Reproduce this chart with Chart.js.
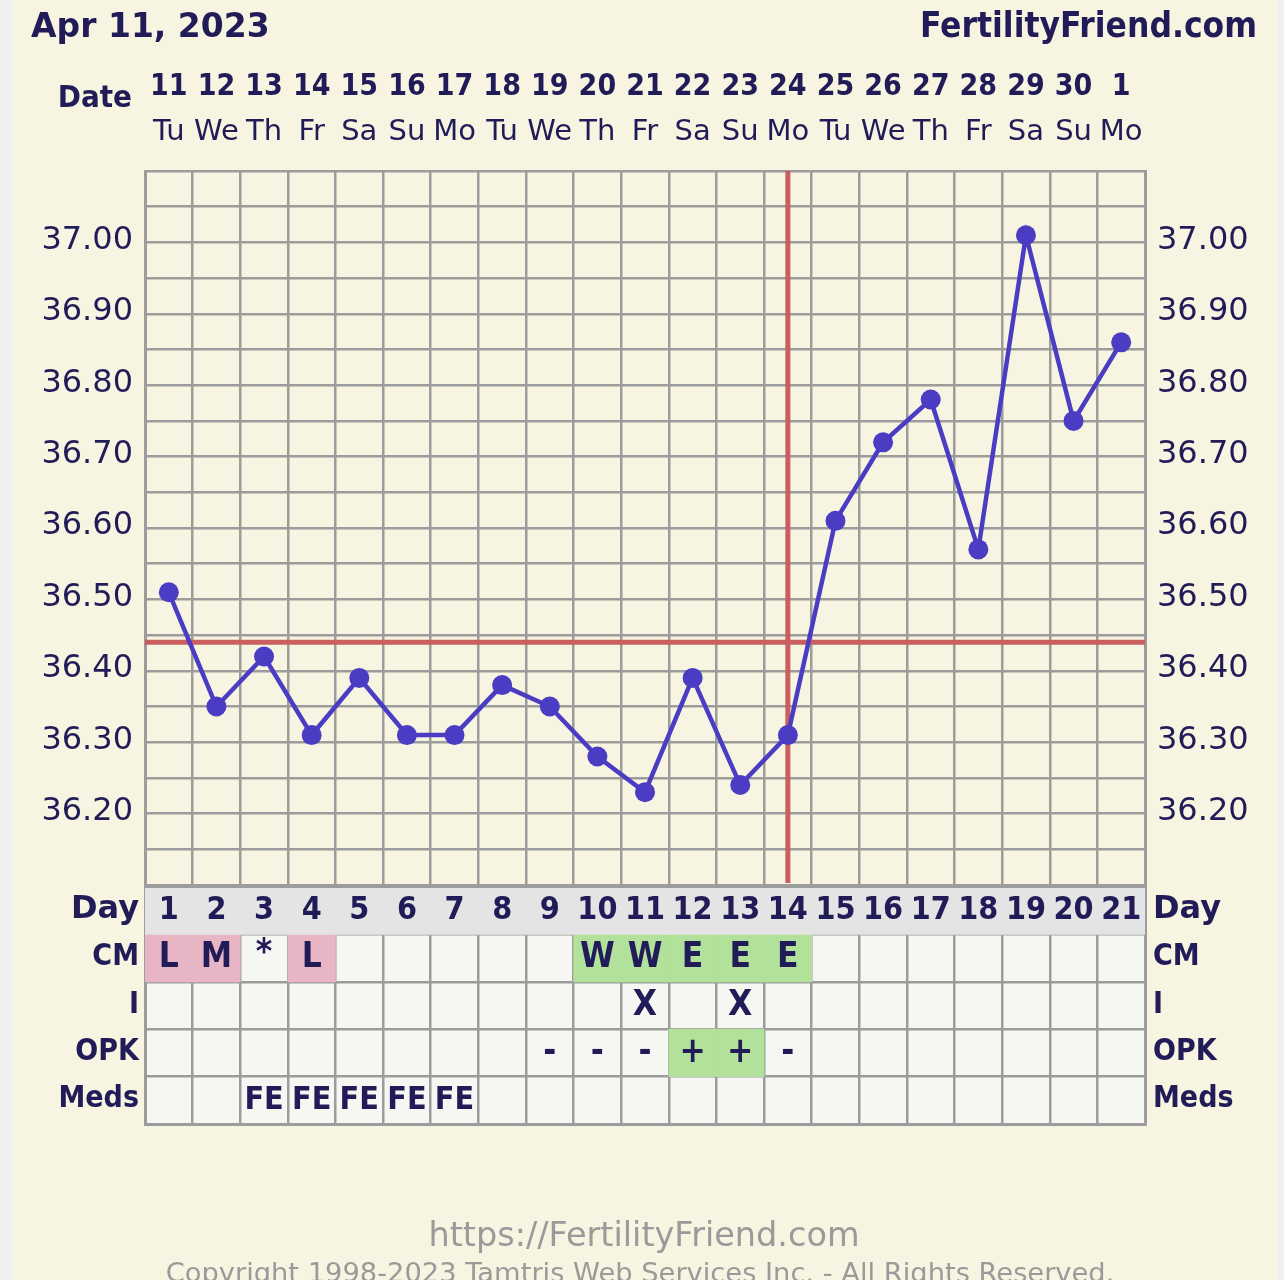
<!DOCTYPE html>
<html>
<head>
<meta charset="utf-8">
<script src="https://cdn.jsdelivr.net/npm/chart.js@4.4.0/dist/chart.umd.min.js"></script>
<style>
  html, body { margin: 0; padding: 0; background: #efefef; }
  body { width: 1284px; height: 1280px; position: relative; overflow: hidden; }
  #panel { position: absolute; left: 12px; top: 0; width: 1265px; height: 1280px; background: #f7f4e1; }
  canvas { position: absolute; left: 0; }
  #tempChart { top: 0; }
  #tableChart { top: 880px; }
</style>
</head>
<body>
<div id="panel"></div>
<canvas id="tempChart" width="1284" height="895"></canvas>
<canvas id="tableChart" width="1284" height="400"></canvas>
<script>
// chart data
const chartDate = 'Apr 11, 2023';
const siteName = 'FertilityFriend.com';
const cycleDays = ['1','2','3','4','5','6','7','8','9','10','11','12','13','14','15','16','17','18','19','20','21'];
const dates = ['11','12','13','14','15','16','17','18','19','20','21','22','23','24','25','26','27','28','29','30','1'];
const weekdays = ['Tu','We','Th','Fr','Sa','Su','Mo','Tu','We','Th','Fr','Sa','Su','Mo','Tu','We','Th','Fr','Sa','Su','Mo'];
const temps = [36.51, 36.35, 36.42, 36.31, 36.39, 36.31, 36.31, 36.38, 36.35, 36.28, 36.23,
               36.39, 36.24, 36.31, 36.61, 36.72, 36.78, 36.57, 37.01, 36.75, 36.86];
const tempLabels = ['36.20','36.30','36.40','36.50','36.60','36.70','36.80','36.90','37.00'];
const coverline = 36.44;
const ovulationDay = '14';

const rowNames = ['Day', 'CM', 'I', 'OPK', 'Meds'];
const cervicalMucus = ['L','M','*','L','','','','','','W','W','E','E','E','','','','','','',''];
const intercourse = ['','','','','','','','','','','X','','X','','','','','','','',''];
const opk = ['','','','','','','','','-','-','-','+','+','-','','','','','','',''];
const meds = ['','','FE','FE','FE','FE','FE','','','','','','','','','','','','','',''];

const NAVY = '#211c57';
const GRID = '#9c9c9c';
const LINE = '#4b3cc4';
const RED = '#c95f5f';
const PINK = '#e8b5c5';
const GREEN = '#b1e19a';

function cmColor(c) {
    if (c === 'L' || c === 'M') return PINK;
    if (c === 'W' || c === 'E') return GREEN;
    return 'rgba(0,0,0,0)';
}

function tempTick(value) {
    const lbl = tempLabels.find(t => Math.abs(parseFloat(t) - value) < 0.001);
    return lbl || '';
}

// keep the empty first/last labels from shrinking the plot
function fixWidth(w) {
    return (s) => {
        s.width = w;
        s.paddingTop = 0;
        s.paddingBottom = 0;
    };
}

const markersPlugin = {
    id: 'markers',
    beforeDatasetsDraw(chart) {
        const { ctx, chartArea, scales } = chart;
        const yc = scales.y.getPixelForValue(coverline);
        const xo = scales.x.getPixelForValue(cycleDays.indexOf(ovulationDay));
        ctx.save();
        ctx.strokeStyle = RED;
        ctx.lineWidth = 5;
        ctx.beginPath();
        ctx.moveTo(chartArea.left, yc);
        ctx.lineTo(chartArea.right, yc);
        ctx.moveTo(xo, chartArea.top);
        ctx.lineTo(xo, chartArea.bottom - 2);
        ctx.stroke();
        ctx.restore();
    },
    afterDraw(chart) {
        const ctx = chart.ctx;
        ctx.save();
        ctx.fillStyle = NAVY;
        ctx.textBaseline = 'alphabetic';
        ctx.font = 'bold 33px "DejaVu Sans"';
        ctx.textAlign = 'left';
        ctx.fillText(chartDate, 31, 37);
        ctx.font = 'bold 35px "DejaVu Sans Condensed", "DejaVu Sans"';
        ctx.textAlign = 'right';
        ctx.fillText(siteName, 1257, 37);
        ctx.font = 'bold 31px "DejaVu Sans Condensed", "DejaVu Sans"';
        ctx.fillText('Date', 132, 107);
        ctx.restore();
    }
};

new Chart(document.getElementById('tempChart'), {
    type: 'line',
    data: {
        labels: cycleDays,
        datasets: [{
            data: temps,
            borderColor: LINE,
            backgroundColor: LINE,
            borderWidth: 4.5,
            pointRadius: 10,
            pointBorderWidth: 0,
            pointBackgroundColor: LINE,
            tension: 0,
            yAxisID: 'y'
        }]
    },
    options: {
        responsive: false,
        animation: false,
        devicePixelRatio: 1,
        layout: { padding: 0 },
        plugins: { legend: { display: false }, tooltip: { enabled: false } },
        scales: {
            x: {
                type: 'category',
                position: 'bottom',
                offset: true,
                grid: { offset: true, color: GRID, lineWidth: 2.5, drawTicks: false },
                border: { color: GRID, width: 3 },
                ticks: { display: false },
                afterFit(s) { s.height = 2; }
            },
            xDate: {
                type: 'category',
                position: 'top',
                weight: 2,
                labels: dates,
                offset: true,
                grid: { display: false, drawTicks: false },
                border: { display: false },
                ticks: {
                    autoSkip: false, maxRotation: 0, padding: 6, color: NAVY,
                    font: { family: '"DejaVu Sans Condensed", "DejaVu Sans"', size: 30, weight: 'bold', lineHeight: 1 }
                },
                afterFit(s) { s.height = 108; }
            },
            xWeek: {
                type: 'category',
                position: 'top',
                weight: 1,
                labels: weekdays,
                offset: true,
                grid: { display: false, drawTicks: false },
                border: { display: false },
                ticks: {
                    autoSkip: false, maxRotation: 0, padding: 24, color: NAVY,
                    font: { family: '"DejaVu Sans"', size: 29, lineHeight: 1 }
                },
                afterFit(s) { s.height = 63; }
            },
            y: {
                type: 'linear',
                position: 'left',
                min: 36.1,
                max: 37.1,
                grid: { color: GRID, lineWidth: 2.5, drawTicks: false },
                border: { color: GRID, width: 3 },
                ticks: {
                    stepSize: 0.05, autoSkip: false, padding: 12, labelOffset: -2, color: NAVY,
                    font: { family: '"DejaVu Sans"', size: 32 },
                    callback: tempTick
                },
                afterFit: fixWidth(145)
            },
            y2: {
                type: 'linear',
                position: 'right',
                min: 36.1,
                max: 37.1,
                grid: { display: false, drawTicks: false },
                border: { color: GRID, width: 3 },
                ticks: {
                    stepSize: 0.05, autoSkip: false, padding: 12, labelOffset: -2, color: NAVY,
                    font: { family: '"DejaVu Sans"', size: 32 },
                    callback: tempTick
                },
                afterFit: fixWidth(139)
            }
        }
    },
    plugins: [markersPlugin]
});

// table under the chart
function rowBars(values, row, test) {
    return values.map(v => test(v) ? [row, row + 1] : null);
}

const tablePlugin = {
    id: 'tableCells',
    beforeDraw(chart) {
        const { ctx, chartArea } = chart;
        ctx.save();
        ctx.fillStyle = '#f6f6f2';
        ctx.fillRect(chartArea.left, chartArea.top, chartArea.right - chartArea.left, chartArea.bottom - chartArea.top);
        ctx.restore();
    },
    afterDraw(chart) {
        const { ctx, scales } = chart;
        const rows = [cycleDays, cervicalMucus, intercourse, opk, meds];
        ctx.save();
        ctx.fillStyle = NAVY;
        ctx.textAlign = 'center';
        ctx.textBaseline = 'middle';
        rows.forEach((vals, r) => {
            const y = scales.y.getPixelForValue(r + 0.5);
            ctx.font = r === 0 || r === 4
                ? 'bold 32px "DejaVu Sans Condensed", "DejaVu Sans"'
                : 'bold 35px "DejaVu Sans Condensed", "DejaVu Sans"';
            vals.forEach((v, i) => {
                if (!v) return;
                ctx.fillText(v, scales.x.getPixelForValue(i), y + (v === '*' ? -4 : 0));
            });
        });
        // footer
        ctx.fillStyle = '#9a9a9a';
        ctx.textBaseline = 'alphabetic';
        ctx.font = '33.5px "DejaVu Sans"';
        ctx.fillText('https://FertilityFriend.com', 644, 366);
        ctx.font = '27.3px "DejaVu Sans"';
        ctx.fillText('Copyright 1998-2023 Tamtris Web Services Inc. - All Rights Reserved.', 640, 402);
        ctx.restore();
    }
};

const rowTickFont = (ctx) => (ctx.tick && ctx.tick.value === 0)
    ? { family: '"DejaVu Sans"', size: 32, weight: 'bold' }
    : { family: '"DejaVu Sans Condensed", "DejaVu Sans"', size: 30, weight: 'bold' };

new Chart(document.getElementById('tableChart'), {
    type: 'bar',
    data: {
        labels: cycleDays,
        datasets: [
            { data: rowBars(cycleDays, 0, () => true), backgroundColor: '#e4e4e4' },
            { data: rowBars(cervicalMucus, 1, c => c && c !== '*'), backgroundColor: cervicalMucus.map(cmColor) },
            { data: rowBars(opk, 3, o => o === '+'), backgroundColor: GREEN }
        ].map(ds => Object.assign(ds, { grouped: false, barPercentage: 1, categoryPercentage: 1, borderWidth: 0, yAxisID: 'y' }))
    },
    options: {
        responsive: false,
        animation: false,
        devicePixelRatio: 1,
        layout: { padding: { top: 7, bottom: 156, left: 0, right: 0 } },
        plugins: { legend: { display: false }, tooltip: { enabled: false } },
        scales: {
            x: {
                type: 'category',
                offset: true,
                z: 1,
                grid: { offset: true, color: GRID, lineWidth: 2.5, drawTicks: false },
                border: { color: GRID, width: 3 },
                ticks: { display: false },
                afterFit(s) { s.height = 0; }
            },
            y: {
                type: 'linear',
                position: 'left',
                min: 0,
                max: 5,
                reverse: true,
                z: 1,
                grid: { color: GRID, lineWidth: 2.5, drawTicks: false },
                border: { color: GRID, width: 3 },
                ticks: {
                    stepSize: 1, padding: 6, labelOffset: 23, color: NAVY, font: rowTickFont,
                    callback: v => rowNames[v] || ''
                },
                afterFit: fixWidth(145)
            },
            y2: {
                type: 'linear',
                position: 'right',
                min: 0,
                max: 5,
                reverse: true,
                z: 1,
                grid: { display: false, drawTicks: false },
                border: { color: GRID, width: 3 },
                ticks: {
                    stepSize: 1, padding: 8, labelOffset: 23, color: NAVY, font: rowTickFont,
                    callback: v => rowNames[v] || ''
                },
                afterFit: fixWidth(139)
            }
        }
    },
    plugins: [tablePlugin]
});
</script>
</body>
</html>
